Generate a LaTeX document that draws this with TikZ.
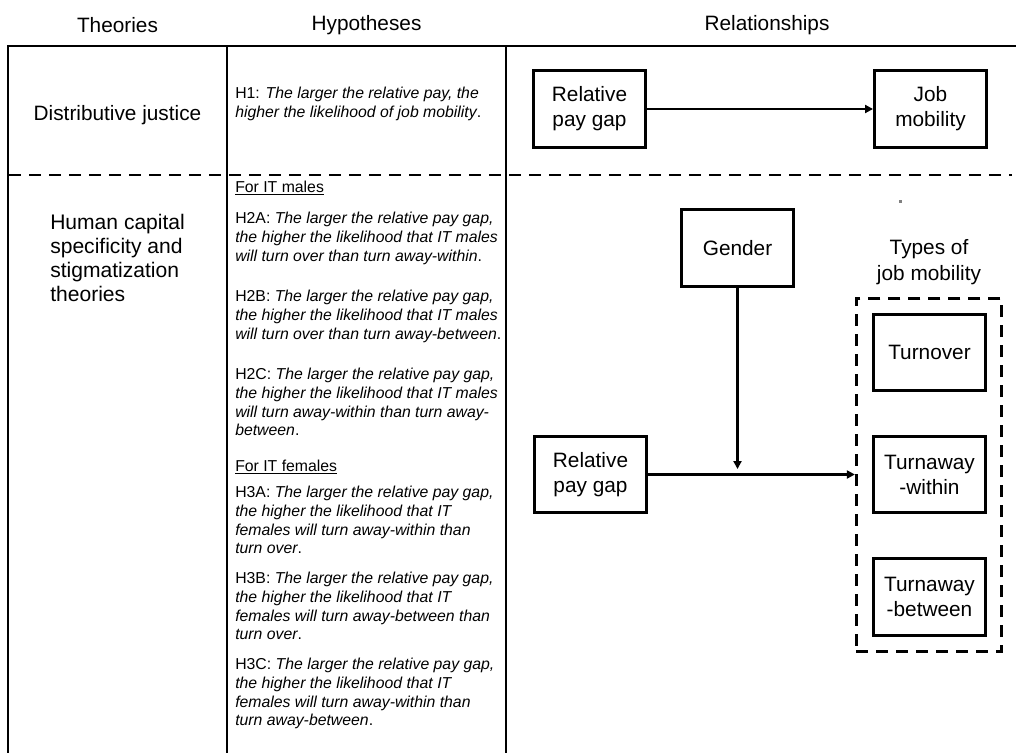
\documentclass[tikz,border=0pt]{standalone}
\usepackage{fontspec}
\setmainfont{Liberation Sans}
\usetikzlibrary{arrows.meta}
\begin{document}
\begin{tikzpicture}[x=0.75pt,y=-0.75pt,
  rule/.style={line width=2.2pt},
  dashrule/.style={line width=2.2pt, dash pattern=on 9pt off 6pt},
  big/.style={font=\fontsize{15.6}{18.75}\selectfont},
  hdr/.style={big, inner sep=0pt},
  varbox/.style={draw, line width=2.2pt, big, align=center, minimum width=84pt, minimum height=57.5pt, inner sep=0pt},
  hyp/.style={anchor=north west, inner sep=0pt, align=left, font=\fontsize{11.85}{14}\selectfont},
  conn/.style={line width=1.9pt, -{Triangle[length=6pt,width=6pt]}},
]
\useasboundingbox (0,0) rectangle (1016,753);
% table rules
\draw[rule] (8,46) -- (1016,46);
\draw[rule] (8,45) -- (8,753);
\draw[rule] (227,45) -- (227,753);
\draw[rule] (506,45) -- (506,753);
\draw[dashrule] (9,175) -- (1012,175);
% headers
\node[hdr] (hTh) at (117.5,25) {Theories};
\node[hdr] (hHy) at (366.5,25) {Hypotheses};
\node[hdr] (hRe) at (767,25) {Relationships};
% theories
\node[hdr] (dj) at (117.5,115) {Distributive justice};
\node[anchor=north west, inner sep=0pt, align=left, font=\fontsize{15.8}{18}\selectfont] (hc) at (50,214)
  {Human capital\\specificity and\\stigmatization\\theories};
% hypotheses
\node[hyp] (h1) at (235,87) {H1: \textit{The larger the relative pay, the}\\\textit{higher the likelihood of job mobility}.};
\node[hyp] (fm) at (235,181) {\underline{For IT males}};
\node[hyp] (h2a) at (235,212) {H2A: \textit{The larger the relative pay gap,}\\\textit{the higher the likelihood that IT males}\\\textit{will turn over than turn away-within}.};
\node[hyp] (h2b) at (235,290) {H2B: \textit{The larger the relative pay gap,}\\\textit{the higher the likelihood that IT males}\\\textit{will turn over than turn away-between}.};
\node[hyp] (h2c) at (235,368) {H2C: \textit{The larger the relative pay gap,}\\\textit{the higher the likelihood that IT males}\\\textit{will turn away-within than turn away-}\\\textit{between}.};
\node[hyp] (ff) at (235,460) {\underline{For IT females}};
\node[hyp] (h3a) at (235,486) {H3A: \textit{The larger the relative pay gap,}\\\textit{the higher the likelihood that IT}\\\textit{females will turn away-within than}\\\textit{turn over}.};
\node[hyp] (h3b) at (235,572) {H3B: \textit{The larger the relative pay gap,}\\\textit{the higher the likelihood that IT}\\\textit{females will turn away-between than}\\\textit{turn over}.};
\node[hyp] (h3c) at (235,658) {H3C: \textit{The larger the relative pay gap,}\\\textit{the higher the likelihood that IT}\\\textit{females will turn away-within than}\\\textit{turn away-between}.};
% relationships, top
\node[varbox] (rel1) at (589.5,109) {Relative\\pay gap};
\node[varbox] (job) at (930.5,109) {Job\\mobility};
\draw[conn] (rel1) -- (job);
% relationships, bottom
\node[varbox] (gender) at (737.5,248) {Gender};
\node[big, align=center, inner sep=0pt, font=\fontsize{15.6}{19.5}\selectfont] (types) at (929,262) {Types of\\job mobility};
\node[draw, dashrule, minimum width=109pt, minimum height=265pt, inner sep=0pt] (grp) at (929,475) {};
\node[varbox] (turn) at (929.5,352.5) {Turnover};
\node[varbox] (tw) at (929.5,474.5) {Turnaway\\-within};
\node[varbox] (tb) at (929.5,597) {Turnaway\\-between};
\node[varbox] (rel2) at (590.5,474.5) {Relative\\pay gap};
\coordinate (meet) at (737.5,469);
\draw[conn] (gender) -- (meet);
\draw[conn] (rel2.east) -- (rel2.east -| grp.west);
\fill[gray] (899,200) rectangle (902,203);
\end{tikzpicture}
\end{document}
